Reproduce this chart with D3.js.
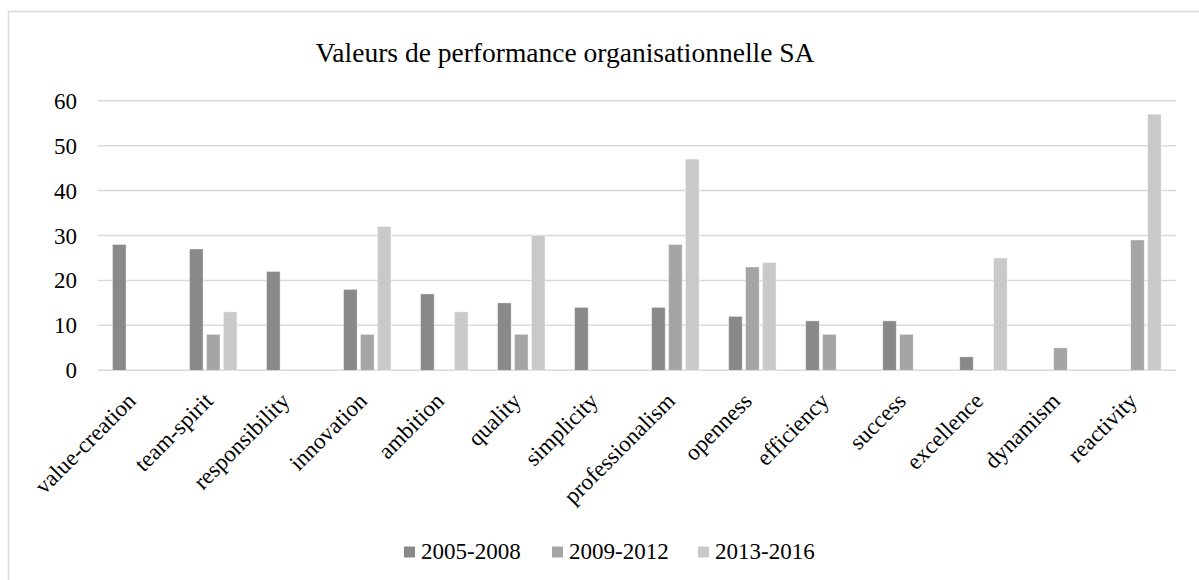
<!DOCTYPE html>
<html>
<head>
<meta charset="utf-8">
<script src="https://cdn.jsdelivr.net/npm/d3@7"></script>
<style>
  body { margin: 0; background: #fff; }
</style>
</head>
<body>
<div id="chart"></div>
<script>
const categories = ["value-creation", "team-spirit", "responsibility", "innovation", "ambition",
  "quality", "simplicity", "professionalism", "openness", "efficiency", "success",
  "excellence", "dynamism", "reactivity"];
const seriesNames = ["2005-2008", "2009-2012", "2013-2016"];
const values2005 = [28, 27, 22, 18, 17, 15, 14, 14, 12, 11, 11, 3, 0, 0];
const values2009 = [0, 8, 0, 8, 0, 8, 0, 28, 23, 8, 8, 0, 5, 29];
const values2013 = [0, 13, 0, 32, 13, 30, 0, 47, 24, 0, 0, 25, 0, 57];
const yTicks = [0, 10, 20, 30, 40, 50, 60];
const colors = ["#898989", "#a5a5a5", "#c9c9c9"];

const width = 1199, height = 580;
const plotLeft = 97.7, plotRight = 1176, plotTop = 100.7, plotBottom = 370.3;
const FONT = "'Liberation Serif', 'Times New Roman', Times, serif";

const svg = d3.select("#chart").append("svg")
  .attr("width", width)
  .attr("height", height)
  .attr("font-family", FONT)
  .style("display", "block");

// chart frame
svg.append("rect")
  .attr("x", 8.5).attr("y", 11.5)
  .attr("width", 1200).attr("height", 600)
  .attr("fill", "#fff")
  .attr("stroke", "#d9d9d9")
  .attr("stroke-width", 1.5);

svg.append("text")
  .attr("x", 565).attr("y", 62)
  .attr("text-anchor", "middle")
  .attr("font-size", 27.5)
  .attr("fill", "#000")
  .text("Valeurs de performance organisationnelle SA");

const y = d3.scaleLinear().domain([0, 60]).range([plotBottom, plotTop]);
const x0 = d3.scaleBand().domain(categories).range([plotLeft, plotRight]);
const x1 = d3.scaleBand().domain(seriesNames)
  .range([-23.7, 23.7]).paddingInner(0.2).paddingOuter(0);
const color = d3.scaleOrdinal().domain(seriesNames).range(colors);

// gridlines
svg.append("g")
  .selectAll("line")
  .data(yTicks)
  .enter()
  .append("line")
  .attr("x1", plotLeft).attr("x2", plotRight)
  .attr("y1", (d) => y(d)).attr("y2", (d) => y(d))
  .attr("stroke", "#d9d9d9")
  .attr("stroke-width", 1.5);

// y labels
svg.append("g")
  .selectAll("text")
  .data(yTicks)
  .enter()
  .append("text")
  .attr("x", 77)
  .attr("y", (d) => y(d))
  .attr("dy", "0.35em")
  .attr("text-anchor", "end")
  .attr("font-size", 23)
  .text((d) => d);

const rows = categories.map((c, i) => ({
  cat: c,
  vals: [values2005[i], values2009[i], values2013[i]]
}));

const groups = svg.append("g")
  .selectAll("g")
  .data(rows)
  .enter()
  .append("g")
  .attr("transform", (d) => `translate(${x0(d.cat) + x0.bandwidth() / 2},0)`);

groups.selectAll("rect")
  .data((d) => d.vals.map((v, k) => ({ s: seriesNames[k], v: v })).filter((e) => e.v > 0))
  .enter()
  .append("rect")
  .attr("x", (d) => x1(d.s))
  .attr("width", x1.bandwidth())
  .attr("y", (d) => y(d.v))
  .attr("height", (d) => y(0) - y(d.v))
  .attr("fill", (d) => color(d.s))
  .attr("stroke", "#ffffff")
  .attr("stroke-opacity", 0.5)
  .attr("stroke-width", 0.75);

// category labels, rotated 45deg
svg.append("g")
  .selectAll("text")
  .data(categories)
  .enter()
  .append("text")
  .attr("transform", (d) => `translate(${x0(d) + x0.bandwidth() / 2 + 1},${plotBottom + 32}) rotate(-45)`)
  .attr("text-anchor", "end")
  .attr("font-size", 23)
  .text((d) => d);

// legend
const legendX = [404, 552, 698];
const legend = svg.append("g")
  .selectAll("g")
  .data(seriesNames)
  .enter()
  .append("g")
  .attr("transform", (d, i) => `translate(${legendX[i]},552)`);

legend.append("rect")
  .attr("x", 0).attr("y", -5.5)
  .attr("width", 11).attr("height", 11)
  .attr("fill", (d) => color(d));

legend.append("text")
  .attr("x", 17)
  .attr("y", 7)
  .attr("font-size", 23)
  .text((d) => d);
</script>
</body>
</html>
